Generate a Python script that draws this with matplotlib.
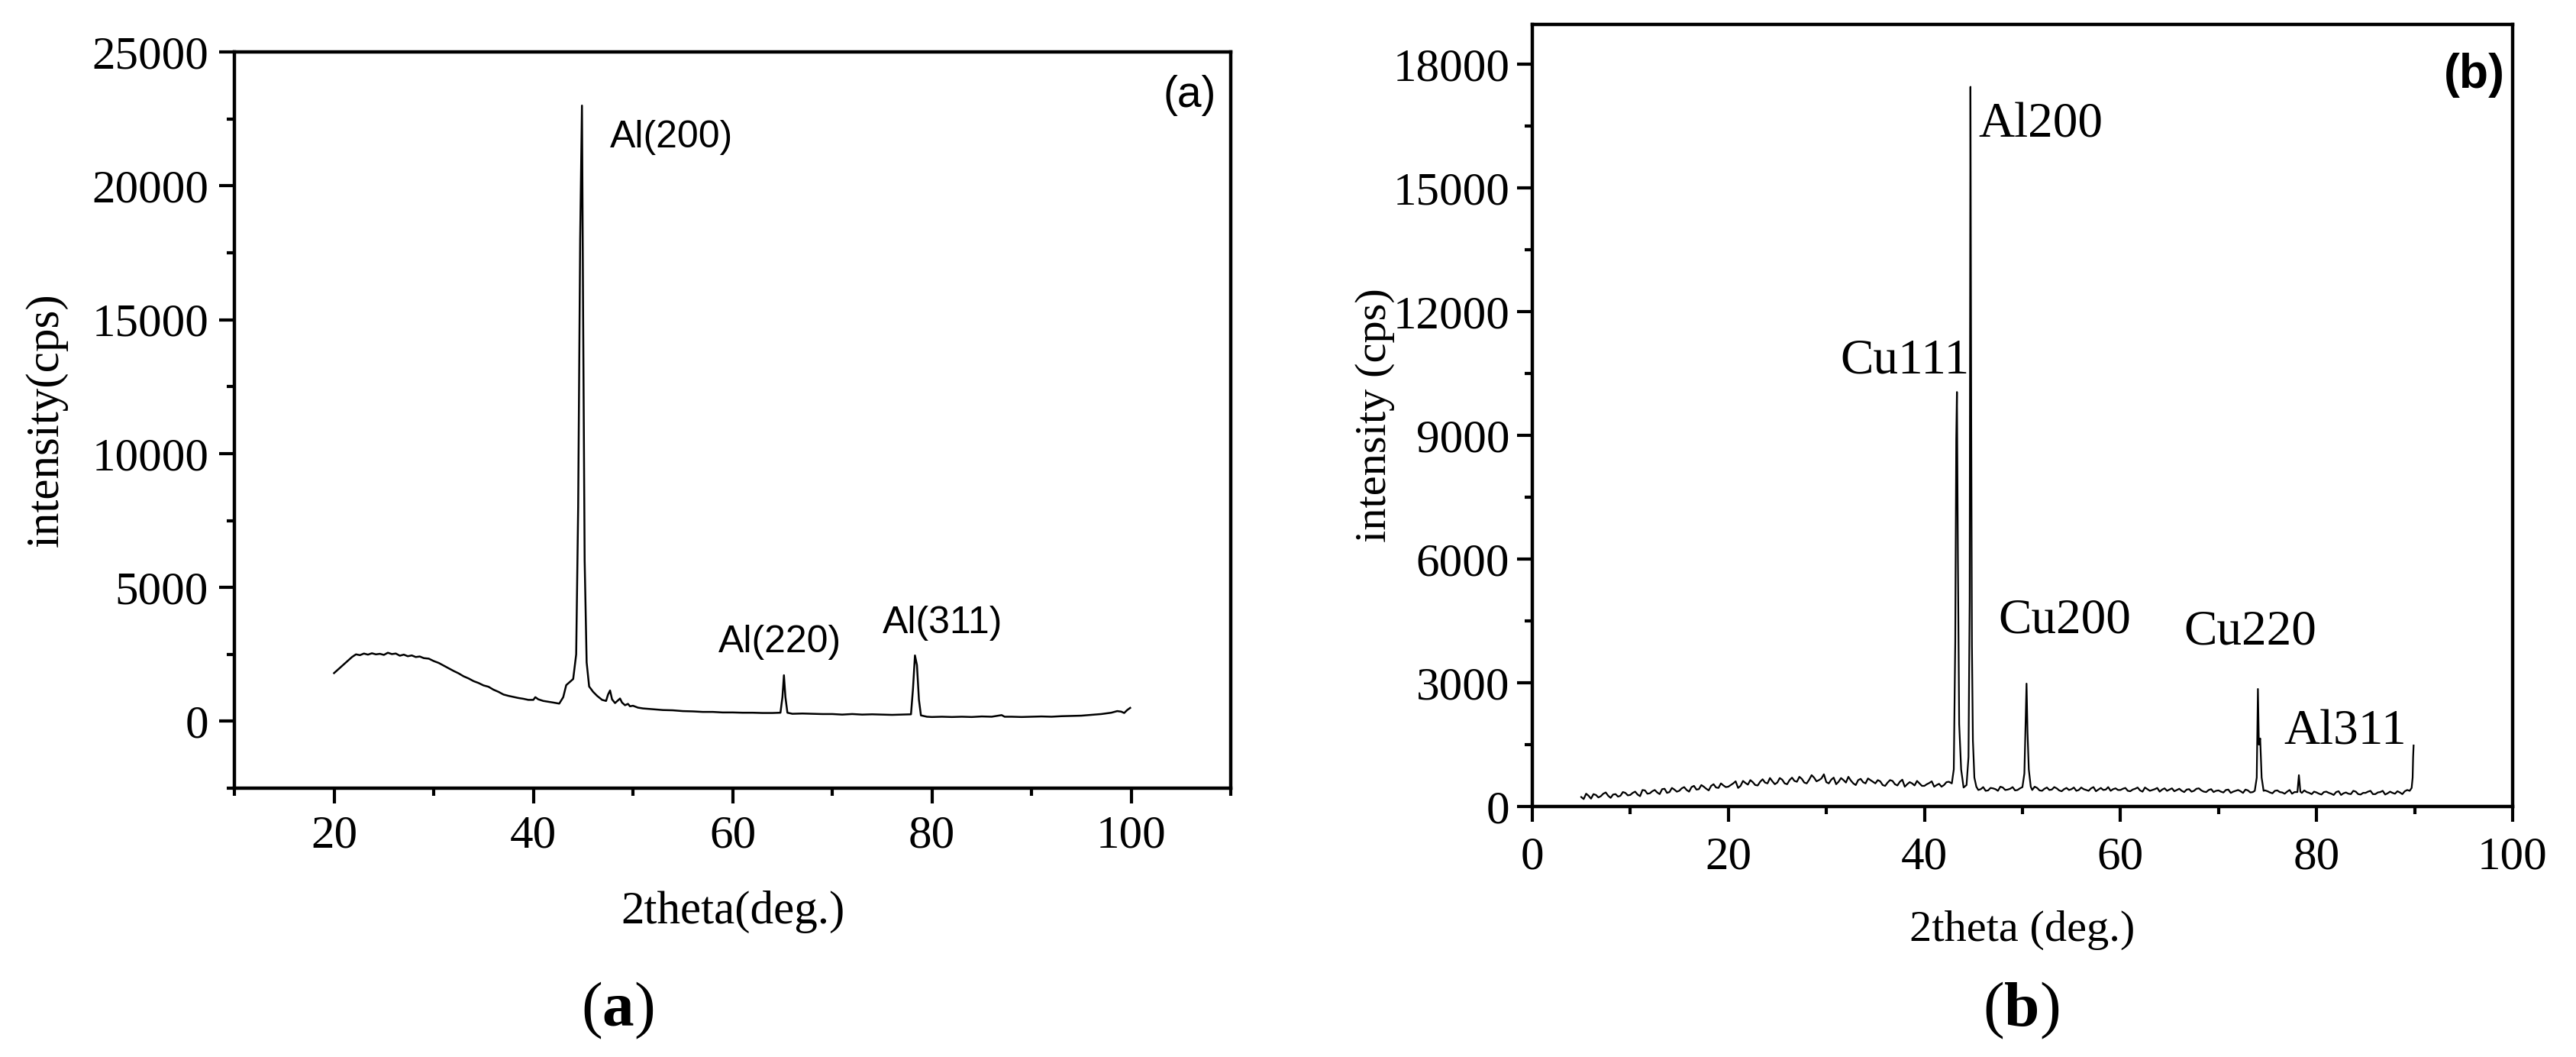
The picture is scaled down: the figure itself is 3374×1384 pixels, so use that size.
import numpy as np
import matplotlib
matplotlib.use("Agg")
import matplotlib.pyplot as plt
from matplotlib.ticker import MultipleLocator

# ---- panel (a): XRD pattern, 2theta 20-100 ----
a_x = [20.0, 20.6, 21.2, 21.8, 22.2, 22.6, 23.0, 23.4, 23.8, 24.2, 24.6, 25.0, 25.4, 25.8,
       26.2, 26.6, 27.0, 27.4, 27.8, 28.2, 28.6, 29.0, 29.5, 30.0, 30.5, 31.0, 31.5, 32.0,
       32.5, 33.0, 33.5, 34.0, 34.5, 35.0, 35.5, 36.0, 36.5, 37.0, 37.5, 38.0, 38.5, 39.0,
       39.5, 40.0, 40.2, 40.5, 41.0, 41.5, 42.0, 42.6, 43.0, 43.3, 43.6, 44.0, 44.3, 44.5,
       44.7, 44.88, 45.0, 45.15, 45.35, 45.6, 46.0, 46.4, 46.9, 47.3, 47.5, 47.7, 47.9, 48.2,
       48.5, 48.7, 48.9, 49.2, 49.5, 49.7, 50.0, 50.5, 51.0, 52.0, 53.0, 54.0, 55.0, 56.0,
       57.0, 58.0, 59.0, 60.0, 61.0, 62.0, 63.0, 64.0, 64.8, 65.0, 65.15, 65.3, 65.5, 66.0,
       67.0, 68.0, 69.0, 70.0, 71.0, 72.0, 73.0, 74.0, 75.0, 76.0, 77.0, 77.9, 78.1, 78.3,
       78.5, 78.7, 78.9, 79.5, 80.0, 81.0, 82.0, 83.0, 84.0, 85.0, 86.0, 87.0, 87.3, 88.0,
       89.0, 90.0, 91.0, 92.0, 93.0, 94.0, 95.0, 96.0, 97.0, 98.0, 98.6, 99.0, 99.3, 99.6, 99.9]
a_y = [1800, 2000, 2200, 2400, 2500, 2470, 2530, 2490, 2540, 2500, 2520, 2480, 2560, 2510,
       2530, 2450, 2490, 2430, 2460, 2400, 2420, 2360, 2340, 2250, 2180, 2080, 1980, 1880,
       1790, 1680, 1600, 1500, 1430, 1340, 1290, 1180, 1100, 1000, 950, 910, 870, 840,
       800, 800, 900, 820, 760, 730, 700, 660, 900, 1350, 1450, 1580, 2500, 8000,
       18000, 23000, 15000, 6000, 2200, 1300, 1100, 950, 800, 760, 1000, 1150, 820, 680,
       780, 850, 700, 600, 650, 560, 580, 510, 480, 450, 420, 410, 380, 370,
       350, 350, 330, 330, 320, 320, 310, 310, 320, 900, 1720, 900, 320, 280,
       290, 280, 270, 270, 250, 270, 250, 260, 250, 240, 250, 260, 1200, 2460,
       2100, 800, 220, 170, 160, 170, 160, 170, 160, 180, 170, 230, 170, 170,
       160, 170, 180, 170, 190, 200, 210, 240, 270, 320, 380, 360, 310, 420, 500]
a_labels = ["Al(200)", "Al(220)", "Al(311)"]
a_label_x = [47.7, 64.75, 81.1]
a_label_y = [21800, 2940, 3660]

# ---- panel (b): XRD pattern, 2theta 5-90 ----
b_base_x = np.arange(5.0, 90.01, 0.5)
b_base_y = [230, 310, 190, 280, 250, 340, 210, 300, 260, 330,
            280, 360, 250, 390, 320, 400, 300, 430, 350, 410,
            380, 470, 360, 500, 420, 480, 390, 540, 450, 510,
            480, 560, 450, 620, 530, 590, 510, 660, 560, 610,
            580, 650, 540, 700, 600, 670, 560, 760, 610, 680,
            590, 650, 540, 690, 580, 630, 520, 670, 560, 640,
            560, 610, 500, 640, 540, 600, 480, 590, 510, 560,
            500, 570, 480, 550, 520, 600, 560, 500, 470, 440,
            450, 400, 470, 390, 440, 380, 460, 410, 470, 400,
            430, 470, 400, 450, 380, 460, 410, 440, 370, 450,
            420, 380, 460, 400, 440, 370, 450, 410, 380, 440,
            400, 450, 370, 430, 390, 460, 380, 420, 360, 440,
            410, 370, 430, 350, 420, 380, 440, 360, 400, 350,
            390, 340, 410, 360, 400, 330, 390, 350, 380, 340,
            370, 320, 390, 340, 360, 310, 380, 330, 350, 300,
            340, 290, 360, 310, 350, 280, 340, 300, 360, 290,
            330, 380, 300, 350, 290, 360, 310, 340, 370, 400,
            420]
# in-between readings (5.25, 5.75, ... 89.75)
b_mid_x = np.arange(5.25, 89.8, 0.5)
b_mid_y = [180, 260, 300, 220, 310, 260, 290, 240, 350, 270,
           330, 290, 400, 310, 370, 340, 420, 330, 450, 360,
           440, 400, 470, 410, 520, 430, 500, 460, 560, 470,
           520, 610, 500, 570, 640, 520, 600, 580, 690, 540,
           690, 560, 640, 620, 720, 580, 650, 700, 640, 780,
           560, 700, 600, 640, 720, 560, 640, 590, 680, 600,
           640, 520, 580, 620, 510, 650, 540, 560, 620, 500,
           540, 610, 520, 480, 590, 540, 470, 520, 500, 480,
           480, 420, 380, 450, 420, 480, 400, 430, 390, 440,
           400, 430, 480, 390, 430, 400, 470, 390, 420, 400,
           460, 400, 420, 380, 470, 410, 400, 470, 420, 400,
           430, 380, 410, 460, 360, 420, 400, 450, 410, 380,
           440, 400, 380, 410, 360, 430, 390, 350, 420, 380,
           360, 400, 330, 380, 370, 410, 340, 400, 360, 390,
           340, 380, 350, 310, 400, 350, 320, 390, 330, 360,
           310, 350, 330, 280, 370, 320, 310, 380, 300, 330,
           360, 300, 340, 380, 320, 330, 370, 300, 400, 380]
b_peak_x = [42.8, 43.0, 43.15, 43.25, 43.32, 43.42, 43.55, 43.75, 44.0, 44.3, 44.5, 44.62,
            44.7, 44.78, 44.85, 44.95, 45.1, 45.3,
            50.0, 50.2, 50.32, 50.42, 50.52, 50.65, 50.85,
            73.7, 73.9, 74.02, 74.12, 74.25, 74.4, 74.6,
            78.05, 78.2, 78.35,
            89.5, 89.7, 89.8, 89.85, 89.9]
b_peak_y = [560, 900, 4000, 8900, 10050, 6000, 2000, 900, 460, 520, 1200, 5000,
            17450, 9300, 3900, 1600, 700, 480,
            470, 800, 2000, 2980, 1800, 900, 480,
            380, 700, 2850, 1500, 1650, 700, 380,
            350, 760, 360,
            380, 450, 700, 1200, 1480]
b_windows = [(42.7, 45.4), (49.9, 50.95), (73.6, 74.7), (78.0, 78.4), (89.4, 90.1)]
b_labels = ["Al200", "Cu111", "Cu200", "Cu220", "Al311"]
b_label_x = [51.9, 38.0, 54.3, 73.2, 82.9]
b_label_y = [16520, 10800, 4500, 4220, 1800]

# merge baseline readings with peak points (baseline inside peak windows dropped)
base_x = np.concatenate([b_base_x, b_mid_x])
base_y = np.concatenate([b_base_y, b_mid_y])
keep = [i for i, x in enumerate(base_x) if not any(lo <= x <= hi for lo, hi in b_windows)]
bx = np.concatenate([base_x[keep], b_peak_x])
by = np.concatenate([base_y[keep], b_peak_y])
order = np.argsort(bx)
bx, by = bx[order], by[order]

plt.rcParams["font.family"] = ["Liberation Serif", "DejaVu Serif"]
plt.rcParams["mathtext.fontset"] = "custom"
plt.rcParams["mathtext.rm"] = "Liberation Serif"
plt.rcParams["mathtext.bf"] = "Liberation Serif:bold"

fig = plt.figure(figsize=(33.74, 13.84), dpi=100)
ax_a = fig.add_axes([0.0910, 0.2543, 0.3868, 0.6965])
ax_b = fig.add_axes([0.5948, 0.2370, 0.3806, 0.7399])

SANS = ["Liberation Sans", "DejaVu Sans"]


def style(ax, xlim, ylim, xmaj, xmin, ymaj, ymin, fs, xpad, ypad):
    ax.set_xlim(*xlim)
    ax.set_ylim(*ylim)
    ax.xaxis.set_major_locator(MultipleLocator(xmaj))
    ax.xaxis.set_minor_locator(MultipleLocator(xmin))
    ax.yaxis.set_major_locator(MultipleLocator(ymaj))
    ax.yaxis.set_minor_locator(MultipleLocator(ymin))
    for s in ax.spines.values():
        s.set_linewidth(3.2)
    ax.tick_params(which="both", direction="out", width=3.0, top=False, right=False)
    ax.tick_params(which="major", length=14.4, labelsize=fs)
    ax.tick_params(axis="x", which="major", pad=xpad)
    ax.tick_params(axis="y", which="major", pad=ypad)
    ax.tick_params(which="minor", length=7.2)


# panel (a)
ax_a.plot(a_x, a_y, color="black", lw=1.8)
style(ax_a, (10, 110), (-2500, 25000), 20, 10, 5000, 2500, 44, 11, 10)
ax_a.set_xlabel("2theta(deg.)", fontsize=44, va="center")
ax_a.set_ylabel("intensity(cps)", fontsize=44, va="center")
ax_a.xaxis.set_label_coords(0.5, -0.168)
ax_a.yaxis.set_label_coords(-0.189, 0.5)
for t, x, y in zip(a_labels, a_label_x, a_label_y):
    ha = "left" if t == "Al(200)" else "center"
    ax_a.text(x, y, t, fontsize=36, family=SANS, ha=ha, va="center")
ax_a.text(105.9, 23370, "(a)", fontsize=41, family=SANS, ha="center", va="center")

# panel (b)
ax_b.plot(bx, by, color="black", lw=1.6)
style(ax_b, (0, 100), (0, 18963), 20, 10, 3000, 1500, 44, 14, 7)
ax_b.set_xlabel("2theta (deg.)", fontsize=42, va="center")
ax_b.set_ylabel("intensity (cps)", fontsize=42, va="center")
ax_b.xaxis.set_label_coords(0.5, -0.158)
ax_b.yaxis.set_label_coords(-0.160, 0.5)
for t, x, y in zip(b_labels, b_label_x, b_label_y):
    ax_b.text(x, y, t, fontsize=47, ha="center", va="center")
ax_b.text(96.1, 17740, "(b)", fontsize=45, family=SANS, weight="bold",
          ha="center", va="center")

# sub-figure captions
fig.text(809 / 3374, 1 - 1323 / 1384, r"($\mathbf{a}$)", fontsize=60, ha="center", va="center")
fig.text(2647 / 3374, 1 - 1323 / 1384, r"($\mathbf{b}$)", fontsize=60, ha="center", va="center")

fig.savefig("out.png", dpi=100)
